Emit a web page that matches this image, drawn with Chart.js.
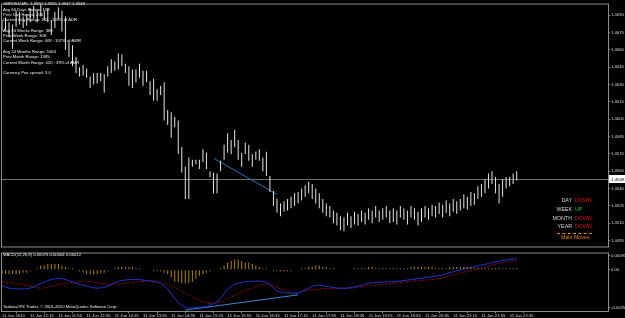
<!DOCTYPE html>
<html>
<head>
<meta charset="utf-8">
<title>GBPUSD,M5</title>
<script src="https://cdn.jsdelivr.net/npm/chart.js@4.4.1/dist/chart.umd.min.js"></script>
<style>
    html, body { margin: 0; padding: 0; background: #000; }
    body { width: 625px; height: 318px; position: relative; overflow: hidden; font-family: 'Liberation Sans', Arial, sans-serif; }
    #main { position: absolute; left: 0; top: 0; }
    #macd { position: absolute; left: 0; top: 249px; }
    .t { position: absolute; transform: scale(0.5); transform-origin: 0 0; white-space: pre; color: #ececec; font-size: 8.4px; line-height: 10.6px; }
    .mv { font-size: 10.6px; line-height: 17.4px; color: #d8d8d8; }
    .mv span.k { display: inline-block; width: 64px; text-align: right; }
    .mv span.v { display: inline-block; margin-left: 6px; }
    .dn { color: #d81c1c; }
    .up { color: #22c022; }
</style>
</head>
<body>
<canvas id="main" width="625" height="250"></canvas>
<canvas id="macd" width="625" height="69"></canvas>

<div class="t" style="left:3px; top:1.3px;">GBPUSD,M5  1.4550 1.4555 1.4547 1.4548
Avg 60 Days Range: 158
Prev Day Range: 206
Current Day Range: 202 : 128% of ADR

Avg 24 Weeks Range: 380
Prev Week Range: 308
Current Week Range: 409 : 107% of AWR

Avg 24 Months Range: 1063
Prev Month Range: 1385
Current Month Range: 420 : 39% of AMR

Currency Pair spread: 3.0</div>

<div class="t mv" style="left:540px; top:195.6px;"><span class="k">DAY</span><span class="v dn">DOWN</span>
<span class="k">WEEK</span><span class="v up">UP</span>
<span class="k">MONTH</span><span class="v dn">DOWN</span>
<span class="k">YEAR</span><span class="v dn">DOWN</span></div>
<div style="position:absolute; left:557px; top:233px; width:35px; border-top:1px dashed #e08a00;"></div>
<div class="t mv" style="left:561px; top:233px; color:#e08a00;">Main Moves</div>

<div class="t" style="left:3px; top:252.4px;">MACD(12,26,9) 0.00076 0.00064 0.00012</div>
<div class="t" style="left:3px; top:304.4px;">Tadawul FX Trader, © 2001-2010 MetaQuotes Software Corp.</div>

<script>
// GBPUSD M5 - 11 Jun 2010, one bar every 5 minutes from 10:35

const highs = [
    1.4686, 1.4688, 1.4684, 1.4682, 1.4694, 1.4693, 1.4689, 1.4691, 1.4696, 1.4698,
    1.4694, 1.4699, 1.4694, 1.4696, 1.4686, 1.4693, 1.4697, 1.4694, 1.4689, 1.4667,
    1.4664, 1.4654, 1.4645, 1.4647, 1.4644, 1.4637, 1.4640, 1.4640, 1.4640, 1.4639,
    1.4646, 1.4652, 1.4650, 1.4657, 1.4656, 1.4648, 1.4646, 1.4643, 1.4643, 1.4648,
    1.4642, 1.4642, 1.4633, 1.4635, 1.4626, 1.4629, 1.4632, 1.4608, 1.4606, 1.4602,
    1.4599, 1.4576, 1.4559, 1.4567, 1.4565, 1.4565, 1.4565, 1.4574, 1.4571, 1.4555,
    1.4554, 1.4553, 1.4564, 1.4578, 1.4588, 1.4582, 1.4591, 1.4582, 1.4571, 1.4580,
    1.4578, 1.4570, 1.4572, 1.4574, 1.4567, 1.4572, 1.4551, 1.4538, 1.4531, 1.4527,
    1.4529, 1.4531, 1.4533, 1.4536, 1.4537, 1.4540, 1.4543, 1.4546, 1.4544, 1.4540,
    1.4536, 1.4531, 1.4527, 1.4525, 1.4521, 1.4519, 1.4516, 1.4515, 1.4519, 1.4516,
    1.4520, 1.4518, 1.4521, 1.4519, 1.4523, 1.4521, 1.4525, 1.4521, 1.4523, 1.4525,
    1.4521, 1.4523, 1.4521, 1.4525, 1.4523, 1.4521, 1.4525, 1.4523, 1.4520, 1.4523,
    1.4525, 1.4523, 1.4526, 1.4525, 1.4528, 1.4526, 1.4530, 1.4527, 1.4531, 1.4529,
    1.4531, 1.4535, 1.4533, 1.4537, 1.4536, 1.4542, 1.4544, 1.4548, 1.4553, 1.4555,
    1.4550, 1.4544, 1.4548, 1.4550, 1.4550, 1.4553, 1.4555
];
const lows = [
    1.4676, 1.4677, 1.4671, 1.4661, 1.4680, 1.4682, 1.4679, 1.4681, 1.4684, 1.4687,
    1.4684, 1.4689, 1.4686, 1.4684, 1.4673, 1.4679, 1.4687, 1.4676, 1.4660, 1.4654,
    1.4646, 1.4640, 1.4637, 1.4638, 1.4636, 1.4627, 1.4630, 1.4631, 1.4633, 1.4623,
    1.4637, 1.4640, 1.4642, 1.4643, 1.4646, 1.4640, 1.4629, 1.4627, 1.4632, 1.4636,
    1.4629, 1.4632, 1.4621, 1.4616, 1.4616, 1.4621, 1.4599, 1.4595, 1.4584, 1.4593,
    1.4570, 1.4554, 1.4531, 1.4531, 1.4559, 1.4561, 1.4557, 1.4563, 1.4557, 1.4550,
    1.4536, 1.4536, 1.4555, 1.4565, 1.4571, 1.4570, 1.4576, 1.4565, 1.4559, 1.4570,
    1.4564, 1.4559, 1.4565, 1.4564, 1.4555, 1.4551, 1.4537, 1.4525, 1.4519, 1.4516,
    1.4520, 1.4521, 1.4523, 1.4525, 1.4527, 1.4530, 1.4533, 1.4536, 1.4531, 1.4527,
    1.4523, 1.4519, 1.4516, 1.4515, 1.4510, 1.4508, 1.4504, 1.4503, 1.4508, 1.4506,
    1.4509, 1.4508, 1.4511, 1.4509, 1.4513, 1.4510, 1.4515, 1.4511, 1.4513, 1.4515,
    1.4510, 1.4511, 1.4509, 1.4515, 1.4513, 1.4509, 1.4515, 1.4513, 1.4508, 1.4511,
    1.4515, 1.4513, 1.4516, 1.4515, 1.4518, 1.4515, 1.4519, 1.4516, 1.4520, 1.4518,
    1.4521, 1.4523, 1.4522, 1.4525, 1.4526, 1.4531, 1.4533, 1.4536, 1.4540, 1.4544,
    1.4536, 1.4527, 1.4533, 1.4540, 1.4542, 1.4544, 1.4547
];
const lastPrice = 1.4548;

// blue trend line drawn on the price chart (bar index, price)
const trendAt = [60.2, 78];
const trendVals = [1.4566, 1.4535];

const priceTicks = [1.4690, 1.4675, 1.4660, 1.4645, 1.4630, 1.4615, 1.4600, 1.4585,
                    1.4570, 1.4555, 1.4540, 1.4525, 1.4510, 1.4495];

// MACD(12,26,9) histogram, one value per bar
const macdHist = [
    -0.0003, -0.0003, -0.0003, -0.0003, -0.0003, -0.0003, -0.0002, -0.0002, -0.0001, 0.0000,
    0.0001, 0.0003, 0.0003, 0.0004, 0.0004, 0.0004, 0.0004, 0.0003, 0.0002, 0.0001,
    0.0001, 0.0000, -0.0001, -0.0002, -0.0003, -0.0003, -0.0003, -0.0003, -0.0002, -0.0002,
    -0.0001, 0.0000, 0.0001, 0.0002, 0.0002, 0.0002, 0.0002, 0.0002, 0.0001, 0.0001,
    0.0000, 0.0000, 0.0000, -0.0001, -0.0001, -0.0001, -0.0002, -0.0003, -0.0005, -0.0008,
    -0.0008, -0.0009, -0.0009, -0.0009, -0.0008, -0.0006, -0.0004, -0.0003, -0.0002, -0.0001,
    0.0000, 0.0000, 0.0001, 0.0003, 0.0005, 0.0006, 0.0007, 0.0007, 0.0006, 0.0005,
    0.0005, 0.0004, 0.0003, 0.0002, 0.0001, 0.0001, 0.0000, -0.0001, -0.0001, -0.0001,
    -0.0001, -0.0001, -0.0001, 0.0000, 0.0000, 0.0001, 0.0001, 0.0002, 0.0002, 0.0003,
    0.0003, 0.0002, 0.0002, 0.0001, 0.0001, 0.0000, 0.0000, 0.0000, 0.0000, 0.0000,
    0.0001, 0.0001, 0.0001, 0.0001, 0.0002, 0.0002, 0.0001, 0.0001, 0.0001, 0.0001,
    0.0001, 0.0001, 0.0001, 0.0001, 0.0001, 0.0001, 0.0002, 0.0002, 0.0002, 0.0002,
    0.0002, 0.0002, 0.0002, 0.0001, 0.0001, 0.0001, 0.0001, 0.0002, 0.0002, 0.0002,
    0.0002, 0.0002, 0.0002, 0.0002, 0.0001, 0.0001, 0.0001, 0.0001, 0.0001, 0.0001,
    0.0001, 0.0001, 0.0001, 0.0001, 0.0001, 0.0001, 0.00012
];

// MACD main line, read at these bars
const macdAt = [0, 2, 5, 8, 11, 14, 16, 18, 21, 24, 27, 30, 33, 37, 41, 45, 47, 49, 52, 56,
                59, 62, 64, 67, 70, 75, 78, 81, 84, 87, 89, 92, 95, 98, 101, 104, 107, 112,
                118, 124, 129, 135, 141, 146];
const macdMain = [-0.00109, -0.00122, -0.00128, -0.00122, -0.00090, -0.00064, -0.00058, -0.00064,
                  -0.00090, -0.00109, -0.00122, -0.00109, -0.00077, -0.00064, -0.00071, -0.00090,
                  -0.00128, -0.00192, -0.00250, -0.00250, -0.00237, -0.00192, -0.00128, -0.00090,
                  -0.00077, -0.00083, -0.00141, -0.00154, -0.00154, -0.00122, -0.00103, -0.00109,
                  -0.00122, -0.00122, -0.00109, -0.00090, -0.00083, -0.00077, -0.00058, -0.00038,
                  -0.00006, 0.00026, 0.00058, 0.00076];

// signal line, read at these bars
const signalAt = [0, 5, 11, 14, 18, 24, 30, 35, 40, 45, 48, 52, 56, 60, 64, 67, 71, 75, 79, 83,
                  87, 94, 99, 105, 111, 116, 124, 129, 135, 141, 146];
const signalVals = [-0.00077, -0.00096, -0.00122, -0.00109, -0.00090, -0.00077, -0.00096, -0.00090,
                    -0.00077, -0.00077, -0.00109, -0.00154, -0.00205, -0.00224, -0.00192, -0.00160,
                    -0.00122, -0.00096, -0.00128, -0.00154, -0.00135, -0.00122, -0.00122, -0.00103,
                    -0.00090, -0.00077, -0.00058, -0.00026, 0.00006, 0.00045, 0.00064];

// trend line in the MACD window
const macdTrendAt = [52, 84];
const macdTrendVals = [-0.00269, -0.00167];

const macdTicks = [0.00093, 0, -0.00252];

const timeLabels = ['11 Jun 2010', '11 Jun 11:15', '11 Jun 11:55', '11 Jun 12:35', '11 Jun 13:15',
                    '11 Jun 13:55', '11 Jun 14:35', '11 Jun 15:15', '11 Jun 15:55', '11 Jun 16:35',
                    '11 Jun 17:15', '11 Jun 17:55', '11 Jun 18:35', '11 Jun 19:15', '11 Jun 19:55',
                    '11 Jun 20:35', '11 Jun 21:15', '11 Jun 21:55', '11 Jun 22:35'];
const barsPerLabel = 8;

// ---------------------------------------------------------------

const FONT = { family: "'Liberation Sans', Arial, sans-serif", size: 4.2 };
const FRAME = '#8c8c8c';
const X_MIN = -0.28, X_MAX = 171.9;

const framePlugin = {
    id: 'frame',
    afterDraw(chart) {
        const { ctx, chartArea: a } = chart;
        ctx.save();
        ctx.strokeStyle = FRAME;
        ctx.lineWidth = 1;
        ctx.strokeRect(a.left + 0.5, a.top + 0.5, a.right - a.left, a.bottom - a.top);
        ctx.restore();
    }
};

const pricePlugin = {
    id: 'price',
    beforeDatasetsDraw(chart) {
        const { ctx, chartArea: a } = chart;
        const y = Math.round(chart.scales.y.getPixelForValue(lastPrice)) + 0.5;
        ctx.save();
        ctx.strokeStyle = '#6e6e6e';
        ctx.lineWidth = 1;
        ctx.beginPath();
        ctx.moveTo(a.left, y);
        ctx.lineTo(a.right, y);
        ctx.stroke();
        ctx.restore();
    },
    afterDraw(chart) {
        const { ctx, chartArea: a } = chart;
        const y = Math.round(chart.scales.y.getPixelForValue(lastPrice));
        ctx.save();
        ctx.fillStyle = '#ffffff';
        ctx.fillRect(a.right + 1, y - 4, 16, 8);
        ctx.fillStyle = '#000000';
        ctx.font = '4.4px ' + FONT.family;
        ctx.textBaseline = 'middle';
        ctx.fillText(lastPrice.toFixed(4), a.right + 3, y + 0.5);
        ctx.restore();
    }
};

const priceBars = highs.map((h, i) => ({ x: i, y: [lows[i], h] }));
const trendLine = trendAt.map((x, k) => ({ x: x, y: trendVals[k] }));

new Chart(document.getElementById('main'), {
    type: 'bar',
    data: {
        datasets: [
            {
                data: priceBars,
                backgroundColor: '#e4e4e4',
                borderWidth: 0,
                inflateAmount: 0,
                barThickness: 1,
                grouped: false
            },
            {
                type: 'line',
                data: trendLine,
                borderColor: '#2a6db0',
                borderWidth: 1,
                pointRadius: 0
            }
        ]
    },
    options: {
        responsive: false,
        devicePixelRatio: 1,
        animation: false,
        events: [],
        layout: { padding: { left: 1, top: 1, bottom: 1, right: 0 } },
        plugins: { legend: { display: false }, tooltip: { enabled: false } },
        scales: {
            x: { type: 'linear', min: X_MIN, max: X_MAX, offset: false, display: false },
            y: {
                position: 'right',
                min: 1.44899,
                max: 1.47002,
                afterBuildTicks: s => { s.ticks = priceTicks.map(v => ({ value: v })); },
                afterFit: s => { s.width = 17; },
                grid: { drawOnChartArea: false, tickLength: 2, color: FRAME },
                border: { display: false },
                ticks: { color: '#d8d8d8', padding: 1, font: FONT, callback: v => v.toFixed(4) }
            }
        }
    },
    plugins: [pricePlugin, framePlugin]
});

const histBars = macdHist.map((v, i) => ({ x: i, y: v }));
const mainLine = macdAt.map((x, k) => ({ x: x, y: macdMain[k] }));
const signalLine = signalAt.map((x, k) => ({ x: x, y: signalVals[k] }));
const macdTrend = macdTrendAt.map((x, k) => ({ x: x, y: macdTrendVals[k] }));

new Chart(document.getElementById('macd'), {
    type: 'bar',
    data: {
        datasets: [
            {
                data: histBars,
                backgroundColor: '#b08418',
                borderWidth: 0,
                inflateAmount: 0,
                barThickness: 1,
                grouped: false
            },
            {
                type: 'line',
                data: mainLine,
                borderColor: '#2432c8',
                borderWidth: 1,
                pointRadius: 0,
                tension: 0.35
            },
            {
                type: 'line',
                data: signalLine,
                borderColor: '#c81414',
                borderWidth: 1,
                borderDash: [1, 1.5],
                pointRadius: 0,
                tension: 0.35
            },
            {
                type: 'line',
                data: macdTrend,
                borderColor: '#3a8ad0',
                borderWidth: 1,
                pointRadius: 0
            }
        ]
    },
    options: {
        responsive: false,
        devicePixelRatio: 1,
        animation: false,
        events: [],
        layout: { padding: { left: 1, top: 0, bottom: 0, right: 0 } },
        plugins: { legend: { display: false }, tooltip: { enabled: false } },
        scales: {
            x: {
                type: 'linear',
                min: X_MIN,
                max: X_MAX,
                offset: false,
                afterBuildTicks: s => { s.ticks = timeLabels.map((t, k) => ({ value: k * barsPerLabel })); },
                afterFit: s => { s.height = 7; },
                grid: { drawOnChartArea: false, tickLength: 2, color: FRAME },
                border: { display: false },
                ticks: {
                    color: '#d8d8d8', padding: 0, font: FONT, align: 'start',
                    maxRotation: 0, autoSkip: false,
                    callback: (v, k) => timeLabels[k]
                }
            },
            y: {
                position: 'right',
                min: -0.00275,
                max: 0.00116,
                afterBuildTicks: s => { s.ticks = macdTicks.map(v => ({ value: v })); },
                afterFit: s => { s.width = 17; },
                grid: { drawOnChartArea: false, tickLength: 2, color: FRAME },
                border: { display: false },
                ticks: { color: '#d8d8d8', padding: 1, font: FONT, callback: v => v === 0 ? '0.00' : v.toFixed(5) }
            }
        }
    },
    plugins: [framePlugin]
});
</script>
</body>
</html>
